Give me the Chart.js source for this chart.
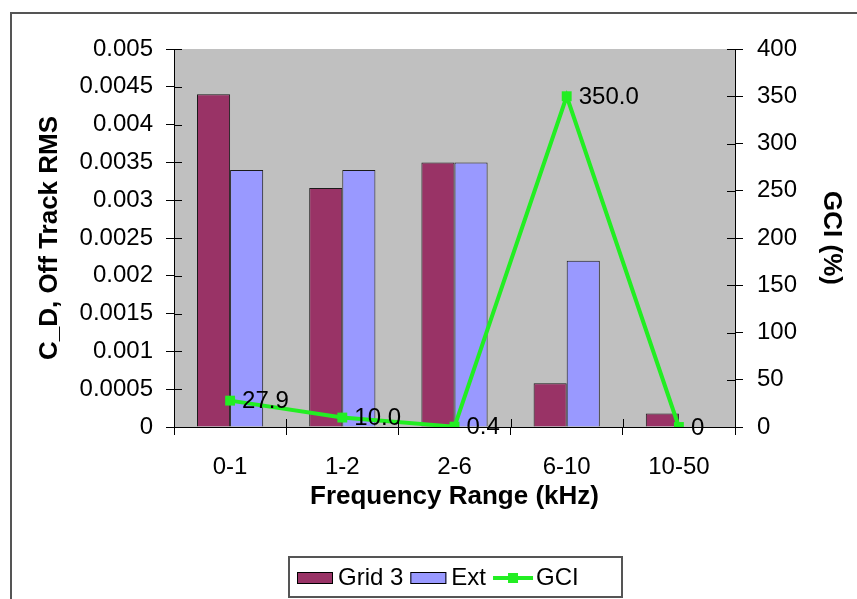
<!DOCTYPE html>
<html>
<head>
<meta charset="utf-8">
<script src="https://cdn.jsdelivr.net/npm/chart.js@4.4.1/dist/chart.umd.min.js"></script>
<style>
  html, body { margin: 0; padding: 0; background: #fff; }
  canvas { display: block; }
</style>
</head>
<body>
<canvas id="c" width="857" height="599"></canvas>
<script>
// Frequency bands and measured values
const categories = ['0-1', '1-2', '2-6', '6-10', '10-50'];
const grid3 = [0.0044, 0.00316, 0.0035, 0.00058, 0.00018];
const ext = [0.0034, 0.0034, 0.0035, 0.0022, 0];
const gci = [27.9, 10.0, 0.4, 350.0, 0];

const FAMILY = "'Liberation Sans', Arial, sans-serif";
const fmtGci = v => (v === 0 ? '0' : v.toFixed(1));

// Grey plot area and the outer frame
const plotBackground = {
  id: 'plotBackground',
  beforeDraw(chart) {
    const { ctx, chartArea: a } = chart;
    ctx.save();
    ctx.fillStyle = '#fff';
    ctx.fillRect(0, 0, chart.width, chart.height);
    ctx.fillStyle = '#c0c0c0';
    ctx.fillRect(a.left, a.top, a.right - a.left, a.bottom - a.top);
    ctx.strokeStyle = '#555';
    ctx.lineWidth = 2;
    ctx.beginPath();
    ctx.moveTo(11, chart.height);
    ctx.lineTo(11, 13);
    ctx.lineTo(chart.width, 13);
    ctx.stroke();
    ctx.restore();
  }
};

// Inner halves of the tick marks, so they cross the axes
const crossTicks = {
  id: 'crossTicks',
  afterDatasetsDraw(chart) {
    const { ctx, chartArea: a, scales } = chart;
    ctx.save();
    ctx.strokeStyle = '#000';
    ctx.lineWidth = 1;
    ctx.beginPath();
    scales.y.ticks.forEach(t => {
      const y = Math.round(scales.y.getPixelForValue(t.value)) + 0.5;
      ctx.moveTo(a.left, y); ctx.lineTo(a.left + 8, y);
    });
    scales.y1.ticks.forEach(t => {
      const y = Math.round(scales.y1.getPixelForValue(t.value)) + 0.5;
      ctx.moveTo(a.right - 8, y); ctx.lineTo(a.right, y);
    });
    const xs = scales.x;
    const step = xs.getPixelForTick(1) - xs.getPixelForTick(0);
    for (let i = 0; i <= categories.length; i++) {
      const x = Math.round(xs.getPixelForTick(0) - step / 2 + i * step) + 0.5;
      ctx.moveTo(x, a.bottom - 8); ctx.lineTo(x, a.bottom);
    }
    ctx.stroke();
    ctx.restore();
  }
};

// Value labels beside the GCI points
const gciLabels = {
  id: 'gciLabels',
  afterDatasetsDraw(chart) {
    const { ctx } = chart;
    const idx = chart.data.datasets.findIndex(d => d.type === 'line');
    const meta = chart.getDatasetMeta(idx);
    ctx.save();
    ctx.font = `24px ${FAMILY}`;
    ctx.fillStyle = '#000';
    ctx.textAlign = 'left';
    ctx.textBaseline = 'middle';
    meta.data.forEach((p, i) => {
      ctx.fillText(fmtGci(chart.data.datasets[idx].data[i]), p.x + 12, p.y + 1);
    });
    ctx.restore();
  }
};

// Boxed legend below the axis title
const boxedLegend = {
  id: 'boxedLegend',
  afterDraw(chart) {
    const { ctx } = chart;
    ctx.save();
    ctx.strokeStyle = '#555';
    ctx.lineWidth = 2;
    ctx.strokeRect(289, 557, 333, 40);
    ctx.font = `24px ${FAMILY}`;
    ctx.textBaseline = 'middle';
    ctx.textAlign = 'left';
    const cy = 578;
    let x = 297;
    chart.data.datasets.forEach(ds => {
      if (ds.type === 'line') {
        ctx.strokeStyle = ds.borderColor;
        ctx.lineWidth = 4;
        ctx.beginPath();
        ctx.moveTo(x, cy); ctx.lineTo(x + 40, cy);
        ctx.stroke();
        ctx.fillStyle = ds.pointBackgroundColor;
        ctx.fillRect(x + 15, cy - 5, 10, 10);
        x += 43;
      } else {
        ctx.fillStyle = ds.backgroundColor;
        ctx.fillRect(x, cy - 6, 36, 12);
        ctx.strokeStyle = '#000';
        ctx.lineWidth = 1;
        ctx.strokeRect(x + 0.5, cy - 5.5, 35, 11);
        x += 41;
      }
      ctx.fillStyle = '#000';
      ctx.fillText(ds.label, x, cy);
      x += ctx.measureText(ds.label).width + 7;
    });
    ctx.restore();
  }
};

const tickFont = { family: FAMILY, size: 24 };
const titleFont = { family: FAMILY, size: 26, weight: 'bold' };

new Chart(document.getElementById('c'), {
  type: 'bar',
  data: {
    labels: categories,
    datasets: [
      {
        label: 'Grid 3', data: grid3, yAxisID: 'y', order: 1,
        backgroundColor: '#993366', borderColor: '#1a1a1a', borderWidth: 1,
        categoryPercentage: 0.59, barPercentage: 1
      },
      {
        label: 'Ext', data: ext, yAxisID: 'y', order: 1,
        backgroundColor: '#9999ff', borderColor: '#1a1a1a', borderWidth: 1,
        categoryPercentage: 0.59, barPercentage: 1
      },
      {
        type: 'line', label: 'GCI', data: gci, yAxisID: 'y1', order: 0,
        borderColor: '#22ee22', borderWidth: 4, tension: 0,
        pointStyle: 'rect', pointRadius: 7, pointBorderWidth: 0,
        pointBackgroundColor: '#22ee22', pointBorderColor: '#22ee22'
      }
    ]
  },
  options: {
    responsive: false,
    animation: false,
    layout: { padding: { top: 49, bottom: 80, left: 0, right: 0 } },
    plugins: { legend: { display: false }, tooltip: { enabled: false } },
    scales: {
      x: {
        grid: { offset: true, drawOnChartArea: false, tickLength: 8, color: '#000' },
        border: { color: '#000', width: 1 },
        ticks: { font: tickFont, color: '#000', padding: 18, maxRotation: 0, autoSkip: false },
        title: { display: true, text: 'Frequency Range (kHz)', font: titleFont, color: '#000', padding: { top: 0, bottom: 7 } },
        afterFit(s) { s.height = 92; }
      },
      y: {
        position: 'left', min: 0, max: 0.005,
        grid: { drawOnChartArea: false, tickLength: 8, color: '#000' },
        border: { color: '#000', width: 1 },
        ticks: { stepSize: 0.0005, font: tickFont, color: '#000', padding: 13, callback: v => String(+v.toFixed(4)) },
        title: { display: true, text: 'C_D, Off Track RMS', font: titleFont, color: '#000', padding: { top: 34, bottom: 0 } },
        afterFit(s) { s.width = 174; }
      },
      y1: {
        position: 'right', min: 0, max: 400,
        grid: { drawOnChartArea: false, tickLength: 8, color: '#000' },
        border: { color: '#000', width: 1 },
        ticks: { stepSize: 50, font: tickFont, color: '#000', padding: 14 },
        title: { display: true, text: 'GCI (%)', font: titleFont, color: '#000', padding: { top: 10, bottom: 0 } },
        afterFit(s) { s.width = 122; }
      }
    }
  },
  plugins: [plotBackground, crossTicks, gciLabels, boxedLegend]
});
</script>
</body>
</html>
